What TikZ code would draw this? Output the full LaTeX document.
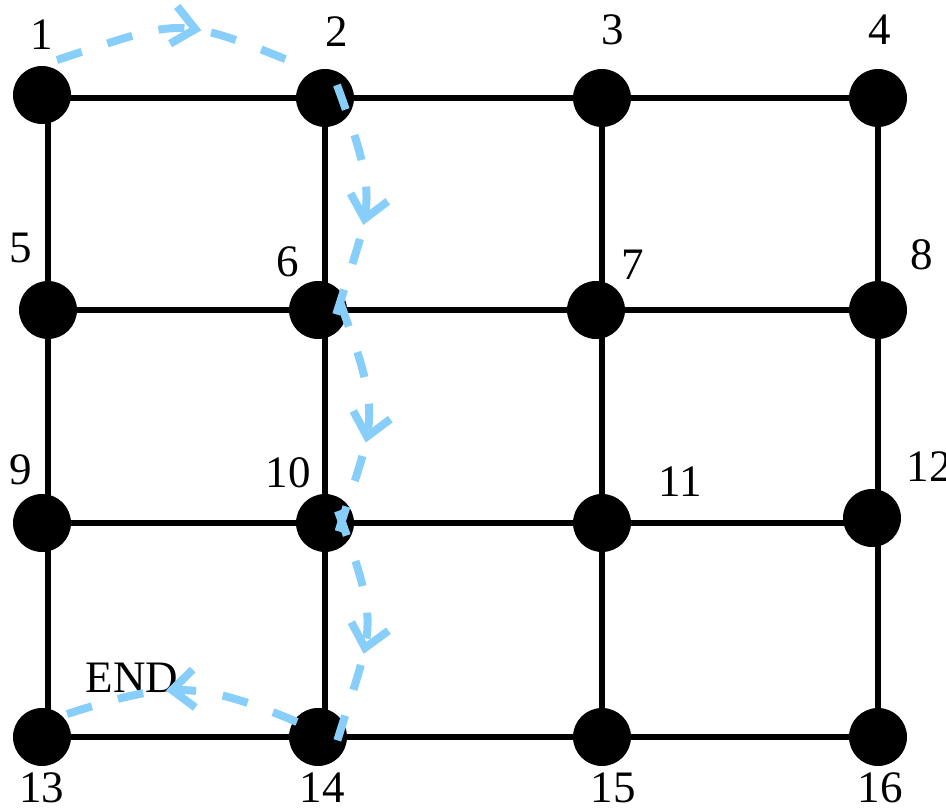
\documentclass[tikz,border=0pt]{standalone}
\usepackage{fontspec}
\setmainfont{Liberation Serif}
\usetikzlibrary{calc,arrows.meta,decorations.markings}
\definecolor{routeC}{HTML}{87CEFA}
\tikzset{
  vtx/.style={circle, fill=black, inner sep=0pt, minimum size=58pt},
  gridline/.style={line width=6.5pt},
  route/.style={routeC, line width=8pt, dash pattern=on 26pt off 27pt},
  midarrow/.style={postaction={decorate}, decoration={markings,
    mark=at position #1 with {\arrow{Straight Barb[length=22pt,width=38pt]}}}},
  num/.style={font=\fontsize{45}{45}\selectfont, inner sep=0pt}
}

\begin{document}
\begin{tikzpicture}[x=1pt, y=1pt]
  \useasboundingbox (0,0) rectangle (946,812);

  % ---- grid points ----
  \foreach \i/\x/\y in {1/48/714, 2/325/714, 3/602/714, 4/878/714,
                        5/48/502, 6/325/502, 7/602/502, 8/878/502,
                        9/48/289, 10/325/289, 11/602/289, 12/878/289,
                        13/48/75, 14/325/75, 15/602/75, 16/878/75} {
    \coordinate (g\i) at (\x,\y);
  }

  % ---- grid edges ----
  \foreach \a/\b in {1/2, 2/3, 3/4, 5/6, 6/7, 7/8, 9/10, 10/11, 11/12,
                     13/14, 14/15, 15/16, 1/5, 5/9, 9/13, 2/6, 6/10, 10/14,
                     3/7, 7/11, 11/15, 4/8, 8/12, 12/16} {
    \draw[gridline] (g\a) -- (g\b);
  }

  % ---- vertices ----
  \foreach \i/\x/\y in {1/42/717, 2/325/714, 3/602/714, 4/878/714,
                        5/48/502, 6/318/502, 7/596/502, 8/878/502,
                        9/42/289, 10/325/289, 11/602/289, 12/872/294,
                        13/42/75, 14/318/75, 15/602/75, 16/878/75} {
    \node[vtx] (n\i) at (\x,\y) {};
  }

  % ---- numbers ----
  \foreach \i/\x/\y in {1/42/777, 2/337/780, 3/613/782, 4/880/782,
                        5/21/564, 6/288/550, 7/633/547, 8/922/557,
                        9/21/342, 10/288/339, 11/680/330, 12/929/345,
                        13/42/24, 14/322/24, 15/613/24, 16/880/24} {
    \node[num] (l\i) at (\x,\y) {\i};
  }
  \node[num] (lend) at (132,134) {END};

  % ---- route ----
  \draw[route, midarrow=0.6] ($(n1)+(15,35)$) to[out=18, in=158, looseness=1.4] ($(n2)+(-30,35)$);
  \draw[route, midarrow=0.58] ($(n2)+(12,13)$) to[out=-70, in=73, looseness=1.4] ($(n6)+(15,-15)$);
  \draw[route, midarrow=0.58] ($(n6)+(22,8)$) to[out=-70, in=73, looseness=1.4] ($(n10)+(10,-20)$);
  \draw[route, midarrow=0.6] ($(n10)+(13,12)$) to[out=-70, in=73, looseness=1.4] ($(n14)+(17,-11)$);
  \draw[route, midarrow=0.55] ($(n14)+(-21,15)$) to[out=157, in=18, looseness=1.2] ($(n13)+(16,20)$);
\end{tikzpicture}
\end{document}
